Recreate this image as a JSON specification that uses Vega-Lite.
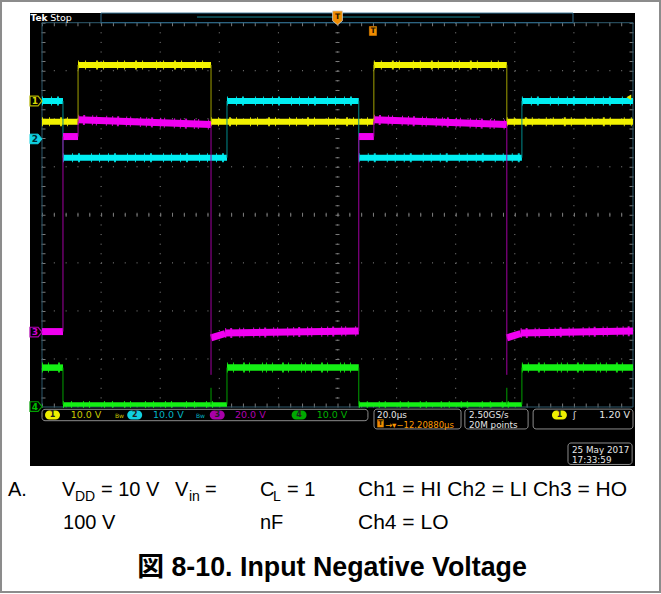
{
  "$schema": "https://vega.github.io/schema/vega-lite/v6.json",
  "width": 605,
  "height": 453,
  "autosize": {"type": "none"},
  "padding": {"left": 30, "top": 13, "right": 26, "bottom": 128},
  "background": "#ffffff",
  "config": {"view": {"fill": "#000000", "stroke": null}},
  "encoding": {
    "x": {"field": "t", "type": "quantitative", "scale": {"domain": [-4.061, 200.677], "nice": false, "zero": false}, "axis": null},
    "y": {"field": "v", "type": "quantitative", "scale": {"domain": [-5.228, 4.2017], "nice": false, "zero": false}, "axis": null}
  },
  "layer": [
    {
      "data": {"values": [
        {"t": 20, "t2": 20, "v": 4, "v2": -4}, {"t": 40, "t2": 40, "v": 4, "v2": -4},
        {"t": 60, "t2": 60, "v": 4, "v2": -4}, {"t": 80, "t2": 80, "v": 4, "v2": -4},
        {"t": 100, "t2": 100, "v": 4, "v2": -4}, {"t": 120, "t2": 120, "v": 4, "v2": -4},
        {"t": 140, "t2": 140, "v": 4, "v2": -4}, {"t": 160, "t2": 160, "v": 4, "v2": -4},
        {"t": 180, "t2": 180, "v": 4, "v2": -4}
      ]},
      "mark": {"type": "rule", "color": "#8a8a8a", "strokeWidth": 1, "strokeDash": [1, 8.608]},
      "encoding": {"x2": {"field": "t2"}, "y2": {"field": "v2"}}
    },
    {
      "data": {"values": [
        {"t": 0, "t2": 200, "v": 3, "v2": 3}, {"t": 0, "t2": 200, "v": 2, "v2": 2},
        {"t": 0, "t2": 200, "v": 1, "v2": 1}, {"t": 0, "t2": 200, "v": 0, "v2": 0},
        {"t": 0, "t2": 200, "v": -1, "v2": -1}, {"t": 0, "t2": 200, "v": -2, "v2": -2},
        {"t": 0, "t2": 200, "v": -3, "v2": -3}
      ]},
      "mark": {"type": "rule", "color": "#8a8a8a", "strokeWidth": 1, "strokeDash": [1, 10.82]},
      "encoding": {"x2": {"field": "t2"}, "y2": {"field": "v2"}}
    },
    {
      "data": {"values": [
        {"t": 100, "t2": 100, "v": 4, "v2": -4},
        {"t": 0.508, "t2": 0.508, "v": 4, "v2": -4},
        {"t": 199.49, "t2": 199.49, "v": 4, "v2": -4}
      ]},
      "mark": {"type": "rule", "color": "#7a7a7a", "strokeWidth": 4, "strokeDash": [1, 8.608]},
      "encoding": {"x2": {"field": "t2"}, "y2": {"field": "v2"}}
    },
    {
      "data": {"values": [
        {"t": 0, "t2": 200, "v": 0, "v2": 0},
        {"t": 0, "t2": 200, "v": 3.969, "v2": 3.969},
        {"t": 0, "t2": 200, "v": -3.969, "v2": -3.969}
      ]},
      "mark": {"type": "rule", "color": "#7a7a7a", "strokeWidth": 4, "strokeDash": [1, 10.82]},
      "encoding": {"x2": {"field": "t2"}, "y2": {"field": "v2"}}
    },
    {
      "data": {"values": [{"t": 0, "t2": 200, "v": 4, "v2": -4}]},
      "mark": {"type": "rect", "filled": false, "color": "#2e5a6e", "strokeWidth": 1},
      "encoding": {"x2": {"field": "t2"}, "y2": {"field": "v2"}}
    },
    {
      "data": {"values": [{"t": 19.97, "t2": 179.7, "v": 4.0, "v2": 4.2}]},
      "mark": {"type": "rect", "filled": false, "color": "#2e6a8a", "strokeWidth": 1},
      "encoding": {"x2": {"field": "t2"}, "y2": {"field": "v2"}}
    },
    {
      "data": {"values": [{"t": 52.45, "t2": 148.2, "v": 4.118, "v2": 4.118}]},
      "mark": {"type": "rule", "color": "#1a8c9c", "strokeWidth": 1},
      "encoding": {"x2": {"field": "t2"}, "y2": {"field": "v2"}}
    },
    {
      "data": {"values": [{"t": -3.9, "v": 4.04, "s": "Tek"}]},
      "mark": {"type": "text", "font": "DejaVu Sans", "fontSize": 9, "fontWeight": "bold", "color": "#ffffff", "align": "left", "baseline": "alphabetic"},
      "encoding": {"text": {"field": "s"}}
    },
    {
      "data": {"values": [{"t": 2.8, "v": 4.04, "s": "Stop"}]},
      "mark": {"type": "text", "font": "DejaVu Sans", "fontSize": 9.5, "color": "#ffffff", "align": "left", "baseline": "alphabetic"},
      "encoding": {"text": {"field": "s"}}
    },
    {
      "data": {"values": [
        {"t": 0, "t2": 7.1, "v": -3.18, "v2": -3.18},
        {"t": 62.6, "t2": 107.2, "v": -3.18, "v2": -3.18},
        {"t": 162.4, "t2": 200, "v": -3.18, "v2": -3.18}
      ]},
      "mark": {"type": "rule", "color": "#14f014", "strokeWidth": 10, "strokeDash": [1, 5, 1, 9, 2, 4, 1, 12, 1, 3], "opacity": 0.85},
      "encoding": {"x2": {"field": "t2"}, "y2": {"field": "v2"}}
    },
    {
      "data": {"values": [
        {"t": 0, "t2": 7.1, "v": -3.18, "v2": -3.18},
        {"t": 62.6, "t2": 107.2, "v": -3.18, "v2": -3.18},
        {"t": 162.4, "t2": 200, "v": -3.18, "v2": -3.18}
      ]},
      "mark": {"type": "rule", "color": "#14f014", "strokeWidth": 6.5},
      "encoding": {"x2": {"field": "t2"}, "y2": {"field": "v2"}}
    },
    {
      "data": {"values": [
        {"t": 7.1, "t2": 62.6, "v": -3.95, "v2": -3.95},
        {"t": 107.2, "t2": 162.4, "v": -3.95, "v2": -3.95}
      ]},
      "mark": {"type": "rule", "color": "#14f014", "strokeWidth": 7, "strokeDash": [1, 7, 1, 11, 1, 5, 1, 14], "opacity": 0.8},
      "encoding": {"x2": {"field": "t2"}, "y2": {"field": "v2"}}
    },
    {
      "data": {"values": [
        {"t": 7.1, "t2": 62.6, "v": -3.95, "v2": -3.95},
        {"t": 107.2, "t2": 162.4, "v": -3.95, "v2": -3.95}
      ]},
      "mark": {"type": "rule", "color": "#14f014", "strokeWidth": 4.5},
      "encoding": {"x2": {"field": "t2"}, "y2": {"field": "v2"}}
    },
    {
      "data": {"values": [
        {"t": 7.1, "t2": 7.1, "v": -3.18, "v2": -3.95},
        {"t": 62.6, "t2": 62.6, "v": -3.95, "v2": -3.18},
        {"t": 107.2, "t2": 107.2, "v": -3.18, "v2": -3.95},
        {"t": 162.4, "t2": 162.4, "v": -3.95, "v2": -3.18},
        {"t": 57.2, "t2": 57.2, "v": -3.95, "v2": -3.6},
        {"t": 157.3, "t2": 157.3, "v": -3.95, "v2": -3.6}
      ]},
      "mark": {"type": "rule", "color": "#00a000", "strokeWidth": 1},
      "encoding": {"x2": {"field": "t2"}, "y2": {"field": "v2"}}
    },
    {
      "data": {"values": [
        {"t": 0, "t2": 12.2, "v": 1.94, "v2": 1.94},
        {"t": 12.2, "t2": 57.2, "v": 3.12, "v2": 3.12},
        {"t": 57.2, "t2": 112.3, "v": 1.94, "v2": 1.94},
        {"t": 112.3, "t2": 157.3, "v": 3.12, "v2": 3.12},
        {"t": 157.3, "t2": 200, "v": 1.94, "v2": 1.94}
      ]},
      "mark": {"type": "rule", "color": "#f2f200", "strokeWidth": 9, "strokeDash": [1, 6, 1, 10, 2, 5, 1, 13], "opacity": 0.85},
      "encoding": {"x2": {"field": "t2"}, "y2": {"field": "v2"}}
    },
    {
      "data": {"values": [
        {"t": 0, "t2": 12.2, "v": 1.94, "v2": 1.94},
        {"t": 12.2, "t2": 57.2, "v": 3.12, "v2": 3.12},
        {"t": 57.2, "t2": 112.3, "v": 1.94, "v2": 1.94},
        {"t": 112.3, "t2": 157.3, "v": 3.12, "v2": 3.12},
        {"t": 157.3, "t2": 200, "v": 1.94, "v2": 1.94}
      ]},
      "mark": {"type": "rule", "color": "#f2f200", "strokeWidth": 6},
      "encoding": {"x2": {"field": "t2"}, "y2": {"field": "v2"}}
    },
    {
      "data": {"values": [
        {"t": 0, "t2": 7.1, "v": 2.37, "v2": 2.37},
        {"t": 7.1, "t2": 62.6, "v": 1.19, "v2": 1.19},
        {"t": 62.6, "t2": 107.2, "v": 2.37, "v2": 2.37},
        {"t": 107.2, "t2": 162.4, "v": 1.19, "v2": 1.19},
        {"t": 162.4, "t2": 200, "v": 2.37, "v2": 2.37}
      ]},
      "mark": {"type": "rule", "color": "#00eef2", "strokeWidth": 9, "strokeDash": [1, 8, 1, 5, 2, 11, 1, 7], "opacity": 0.85},
      "encoding": {"x2": {"field": "t2"}, "y2": {"field": "v2"}}
    },
    {
      "data": {"values": [
        {"t": 0, "t2": 7.1, "v": 2.37, "v2": 2.37},
        {"t": 7.1, "t2": 62.6, "v": 1.19, "v2": 1.19},
        {"t": 62.6, "t2": 107.2, "v": 2.37, "v2": 2.37},
        {"t": 107.2, "t2": 162.4, "v": 1.19, "v2": 1.19},
        {"t": 162.4, "t2": 200, "v": 2.37, "v2": 2.37}
      ]},
      "mark": {"type": "rule", "color": "#00eef2", "strokeWidth": 6},
      "encoding": {"x2": {"field": "t2"}, "y2": {"field": "v2"}}
    },
    {
      "data": {"values": [
        {"t": 7.1, "t2": 7.1, "v": 2.37, "v2": 1.19},
        {"t": 62.6, "t2": 62.6, "v": 1.19, "v2": 2.37},
        {"t": 107.2, "t2": 107.2, "v": 2.37, "v2": 1.19},
        {"t": 162.4, "t2": 162.4, "v": 1.19, "v2": 2.37}
      ]},
      "mark": {"type": "rule", "color": "#008a8c", "strokeWidth": 1},
      "encoding": {"x2": {"field": "t2"}, "y2": {"field": "v2"}}
    },
    {
      "data": {"values": [
        {"t": 12.2, "t2": 57.2, "v": 1.98, "v2": 1.88},
        {"t": 62, "t2": 107.2, "v": -2.46, "v2": -2.42},
        {"t": 112.3, "t2": 157.3, "v": 1.98, "v2": 1.88},
        {"t": 162, "t2": 200, "v": -2.46, "v2": -2.42}
      ]},
      "mark": {"type": "rule", "color": "#f000f0", "strokeWidth": 10, "strokeDash": [1, 4, 2, 7, 1, 3, 1, 9, 1, 5], "opacity": 0.85},
      "encoding": {"x2": {"field": "t2"}, "y2": {"field": "v2"}}
    },
    {
      "data": {"values": [
        {"t": 0, "t2": 7.1, "v": -2.43, "v2": -2.43},
        {"t": 7.1, "t2": 12.2, "v": 1.63, "v2": 1.63},
        {"t": 12.2, "t2": 57.2, "v": 1.98, "v2": 1.88},
        {"t": 57.2, "t2": 62, "v": -2.56, "v2": -2.47},
        {"t": 62, "t2": 107.2, "v": -2.46, "v2": -2.42},
        {"t": 107.2, "t2": 112.3, "v": 1.63, "v2": 1.63},
        {"t": 112.3, "t2": 157.3, "v": 1.98, "v2": 1.88},
        {"t": 157.3, "t2": 162, "v": -2.56, "v2": -2.47},
        {"t": 162, "t2": 200, "v": -2.46, "v2": -2.42}
      ]},
      "mark": {"type": "rule", "color": "#f000f0", "strokeWidth": 7},
      "encoding": {"x2": {"field": "t2"}, "y2": {"field": "v2"}}
    },
    {
      "data": {"values": [
        {"t": 7.1, "t2": 7.1, "v": -2.43, "v2": 1.63},
        {"t": 12.2, "t2": 12.2, "v": 1.63, "v2": 1.98},
        {"t": 57.2, "t2": 57.2, "v": 1.88, "v2": -3.33},
        {"t": 107.2, "t2": 107.2, "v": -2.42, "v2": 1.63},
        {"t": 112.3, "t2": 112.3, "v": 1.63, "v2": 1.98},
        {"t": 157.3, "t2": 157.3, "v": 1.88, "v2": -3.33}
      ]},
      "mark": {"type": "rule", "color": "#a000a0", "strokeWidth": 1},
      "encoding": {"x2": {"field": "t2"}, "y2": {"field": "v2"}}
    },
    {
      "data": {"values": [
        {"t": 12.2, "t2": 12.2, "v": 1.94, "v2": 3.12},
        {"t": 57.2, "t2": 57.2, "v": 3.12, "v2": 1.94},
        {"t": 112.3, "t2": 112.3, "v": 1.94, "v2": 3.12},
        {"t": 157.3, "t2": 157.3, "v": 3.12, "v2": 1.94}
      ]},
      "mark": {"type": "rule", "color": "#a0a000", "strokeWidth": 1},
      "encoding": {"x2": {"field": "t2"}, "y2": {"field": "v2"}}
    },
    {
      "data": {"values": [{"t": -2.03, "v": 2.37}]},
      "mark": {"type": "point", "shape": "M-1,-0.8L0.35,-0.8L1,0L0.35,0.8L-1,0.8Z", "size": 144, "filled": true, "fill": "#000000", "stroke": "#b4b400", "strokeWidth": 1.2, "opacity": 1}
    },
    {
      "data": {"values": [{"t": -2.03, "v": 1.58}]},
      "mark": {"type": "point", "shape": "M-1,-0.8L0.35,-0.8L1,0L0.35,0.8L-1,0.8Z", "size": 144, "filled": true, "fill": "#10d0e0", "stroke": "#10d0e0", "strokeWidth": 1, "opacity": 1}
    },
    {
      "data": {"values": [{"t": -2.03, "v": -2.44}]},
      "mark": {"type": "point", "shape": "M-1,-0.8L0.35,-0.8L1,0L0.35,0.8L-1,0.8Z", "size": 144, "filled": true, "fill": "#000000", "stroke": "#b000b0", "strokeWidth": 1.2, "opacity": 1}
    },
    {
      "data": {"values": [{"t": -2.03, "v": -3.99}]},
      "mark": {"type": "point", "shape": "M-1,-0.8L0.35,-0.8L1,0L0.35,0.8L-1,0.8Z", "size": 144, "filled": true, "fill": "#000000", "stroke": "#00a000", "strokeWidth": 1.2, "opacity": 1}
    },
    {
      "data": {"values": [{"t": -2.4, "v": 2.37, "s": "1"}]},
      "mark": {"type": "text", "font": "DejaVu Sans", "fontSize": 9, "fontWeight": "bold", "color": "#d8d800", "align": "center", "baseline": "middle"},
      "encoding": {"text": {"field": "s"}}
    },
    {
      "data": {"values": [{"t": -2.4, "v": 1.58, "s": "2"}]},
      "mark": {"type": "text", "font": "DejaVu Sans", "fontSize": 9, "fontWeight": "bold", "color": "#002830", "align": "center", "baseline": "middle"},
      "encoding": {"text": {"field": "s"}}
    },
    {
      "data": {"values": [{"t": -2.4, "v": -2.44, "s": "3"}]},
      "mark": {"type": "text", "font": "DejaVu Sans", "fontSize": 9, "fontWeight": "bold", "color": "#d000d0", "align": "center", "baseline": "middle"},
      "encoding": {"text": {"field": "s"}}
    },
    {
      "data": {"values": [{"t": -2.4, "v": -3.99, "s": "4"}]},
      "mark": {"type": "text", "font": "DejaVu Sans", "fontSize": 9, "fontWeight": "bold", "color": "#00c000", "align": "center", "baseline": "middle"},
      "encoding": {"text": {"field": "s"}}
    },
    {
      "data": {"values": [{"t": 100, "v": 4.1}]},
      "mark": {"type": "point", "shape": "M-0.7,-1L0.7,-1L0.7,0.4L0,1L-0.7,0.4Z", "size": 196, "filled": true, "fill": "#f08c00", "stroke": "#d0d0d0", "strokeWidth": 0.8, "opacity": 1}
    },
    {
      "data": {"values": [{"t": 112.0, "v": 3.827}]},
      "mark": {"type": "point", "shape": "M-0.8,-1L0.8,-1L0.8,1L-0.8,1Z", "size": 81, "filled": true, "fill": "#f08c00", "stroke": "#f08c00", "strokeWidth": 0.5, "opacity": 1}
    },
    {
      "data": {"values": [{"t": 100, "v": 4.12, "s": "T"}, {"t": 112.0, "v": 3.827, "s": "T"}]},
      "mark": {"type": "text", "font": "DejaVu Sans", "fontSize": 7.5, "fontWeight": "bold", "color": "#201000", "align": "center", "baseline": "middle"},
      "encoding": {"text": {"field": "s"}}
    },
    {
      "data": {"values": [{"t": 198.6, "v": 2.45}]},
      "mark": {"type": "point", "shape": "triangle-left", "size": 30, "filled": true, "color": "#e8e800", "opacity": 1}
    },
    {
      "data": {"values": [
        {"t": 0, "t2": 110.3, "v": -4.048, "v2": -4.285},
        {"t": 112.35, "t2": 141.8, "v": -4.044, "v2": -4.457},
        {"t": 143.1, "t2": 164.5, "v": -4.044, "v2": -4.457},
        {"t": 166.2, "t2": 200, "v": -4.044, "v2": -4.457},
        {"t": 178, "t2": 199.7, "v": -4.749, "v2": -5.196}
      ]},
      "mark": {"type": "rect", "filled": false, "color": "#8c8c8c", "strokeWidth": 1, "cornerRadius": 3},
      "encoding": {"x2": {"field": "t2"}, "y2": {"field": "v2"}}
    },
    {
      "data": {"values": [{"t": 3.55, "v": -4.166}, {"t": 175.1, "v": -4.166}]},
      "mark": {"type": "point", "shape": "M-0.4,-0.6L0.4,-0.6A0.6,0.6,0,0,1,0.4,0.6L-0.4,0.6A0.6,0.6,0,0,1,-0.4,-0.6Z", "size": 225, "filled": true, "color": "#eeee00", "opacity": 1}
    },
    {
      "data": {"values": [{"t": 31.37, "v": -4.166}]},
      "mark": {"type": "point", "shape": "M-0.4,-0.6L0.4,-0.6A0.6,0.6,0,0,1,0.4,0.6L-0.4,0.6A0.6,0.6,0,0,1,-0.4,-0.6Z", "size": 225, "filled": true, "color": "#10d0e0", "opacity": 1}
    },
    {
      "data": {"values": [{"t": 59.3, "v": -4.166}]},
      "mark": {"type": "point", "shape": "M-0.4,-0.6L0.4,-0.6A0.6,0.6,0,0,1,0.4,0.6L-0.4,0.6A0.6,0.6,0,0,1,-0.4,-0.6Z", "size": 225, "filled": true, "color": "#a800a8", "opacity": 1}
    },
    {
      "data": {"values": [{"t": 87.0, "v": -4.166}]},
      "mark": {"type": "point", "shape": "M-0.4,-0.6L0.4,-0.6A0.6,0.6,0,0,1,0.4,0.6L-0.4,0.6A0.6,0.6,0,0,1,-0.4,-0.6Z", "size": 225, "filled": true, "color": "#00a800", "opacity": 1}
    },
    {
      "data": {"values": [{"t": 3.55, "v": -4.166, "s": "1"}, {"t": 31.37, "v": -4.166, "s": "2"}, {"t": 59.3, "v": -4.166, "s": "3"}, {"t": 87.0, "v": -4.166, "s": "4"}, {"t": 175.1, "v": -4.166, "s": "1"}]},
      "mark": {"type": "text", "font": "DejaVu Sans", "fontSize": 8, "fontWeight": "bold", "color": "#202020", "align": "center", "baseline": "middle"},
      "encoding": {"text": {"field": "s"}}
    },
    {
      "data": {"values": [{"t": 9.71, "v": -4.236, "s": "10.0 V"}]},
      "mark": {"type": "text", "font": "DejaVu Sans", "fontSize": 9.5, "color": "#c8c800", "align": "left", "baseline": "alphabetic"},
      "encoding": {"text": {"field": "s"}}
    },
    {
      "data": {"values": [{"t": 24.7, "v": -4.236, "s": "Bw"}]},
      "mark": {"type": "text", "font": "DejaVu Sans", "fontSize": 6, "color": "#c8c800", "align": "left", "baseline": "alphabetic"},
      "encoding": {"text": {"field": "s"}}
    },
    {
      "data": {"values": [{"t": 37.56, "v": -4.236, "s": "10.0 V"}]},
      "mark": {"type": "text", "font": "DejaVu Sans", "fontSize": 9.5, "color": "#00b4c4", "align": "left", "baseline": "alphabetic"},
      "encoding": {"text": {"field": "s"}}
    },
    {
      "data": {"values": [{"t": 52.1, "v": -4.236, "s": "Bw"}]},
      "mark": {"type": "text", "font": "DejaVu Sans", "fontSize": 6, "color": "#00b4c4", "align": "left", "baseline": "alphabetic"},
      "encoding": {"text": {"field": "s"}}
    },
    {
      "data": {"values": [{"t": 65.3, "v": -4.236, "s": "20.0 V"}]},
      "mark": {"type": "text", "font": "DejaVu Sans", "fontSize": 9.5, "color": "#b000b0", "align": "left", "baseline": "alphabetic"},
      "encoding": {"text": {"field": "s"}}
    },
    {
      "data": {"values": [{"t": 92.96, "v": -4.236, "s": "10.0 V"}]},
      "mark": {"type": "text", "font": "DejaVu Sans", "fontSize": 9.5, "color": "#00b000", "align": "left", "baseline": "alphabetic"},
      "encoding": {"text": {"field": "s"}}
    },
    {
      "data": {"values": [
        {"t": 113.4, "v": -4.236, "s": "20.0µs"},
        {"t": 144.5, "v": -4.236, "s": "2.50GS/s"},
        {"t": 144.5, "v": -4.43, "s": "20M points"},
        {"t": 179.7, "v": -4.236, "s": "ʃ"},
        {"t": 179.36, "v": -4.964, "s": "25 May 2017"},
        {"t": 179.36, "v": -5.16, "s": "17:33:59"}
      ]},
      "mark": {"type": "text", "font": "DejaVu Sans", "fontSize": 8.8, "color": "#e6e6e6", "align": "left", "baseline": "alphabetic"},
      "encoding": {"text": {"field": "s"}}
    },
    {
      "data": {"values": [{"t": 198.98, "v": -4.236, "s": "1.20 V"}]},
      "mark": {"type": "text", "font": "DejaVu Sans", "fontSize": 9.5, "color": "#e6e6e6", "align": "right", "baseline": "alphabetic"},
      "encoding": {"text": {"field": "s"}}
    },
    {
      "data": {"values": [{"t": 114.55, "v": -4.34}]},
      "mark": {"type": "point", "shape": "M-0.8,-1L0.8,-1L0.8,1L-0.8,1Z", "size": 64, "filled": true, "color": "#f08c00", "opacity": 1}
    },
    {
      "data": {"values": [{"t": 114.55, "v": -4.34, "s": "T"}]},
      "mark": {"type": "text", "font": "DejaVu Sans", "fontSize": 6.5, "fontWeight": "bold", "color": "#201000", "align": "center", "baseline": "middle"},
      "encoding": {"text": {"field": "s"}}
    },
    {
      "data": {"values": [{"t": 116.07, "v": -4.43, "s": "→▾−12.20880µs"}]},
      "mark": {"type": "text", "font": "DejaVu Sans", "fontSize": 8.5, "color": "#ff9a00", "align": "left", "baseline": "alphabetic"},
      "encoding": {"text": {"field": "s"}}
    },
    {
      "data": {"values": [{"t": -13.87, "t2": 209.14, "v": 4.452, "v2": -7.851}]},
      "mark": {"type": "rect", "filled": false, "color": "#8c8c8c", "strokeWidth": 2, "clip": false},
      "encoding": {"x2": {"field": "t2"}, "y2": {"field": "v2"}}
    },
    {
      "data": {"values": [
        {"t": -11.51, "v": -5.852, "s": "A."},
        {"t": 6.77, "v": -5.852, "s": "V"},
        {"t": 19.97, "v": -5.852, "s": "= 10 V"},
        {"t": 45.0, "v": -5.852, "s": "V"},
        {"t": 55.16, "v": -5.852, "s": "="},
        {"t": 73.77, "v": -5.852, "s": "C"},
        {"t": 82.91, "v": -5.852, "s": "= 1"},
        {"t": 7.11, "v": -6.539, "s": "100 V"},
        {"t": 73.77, "v": -6.539, "s": "nF"}
      ]},
      "mark": {"type": "text", "font": "Liberation Sans", "fontSize": 20, "color": "#000000", "align": "left", "baseline": "alphabetic"},
      "encoding": {"text": {"field": "s"}}
    },
    {
      "data": {"values": [
        {"t": 106.94, "v": -5.852, "s": "Ch1 = HI Ch2 = LI Ch3 = HO"},
        {"t": 106.94, "v": -6.539, "s": "Ch4 = LO"}
      ]},
      "mark": {"type": "text", "font": "Liberation Sans", "fontSize": 21, "color": "#000000", "align": "left", "baseline": "alphabetic"},
      "encoding": {"text": {"field": "s"}}
    },
    {
      "data": {"values": [
        {"t": 11.17, "v": -5.956, "s": "DD"},
        {"t": 49.75, "v": -5.956, "s": "in"},
        {"t": 78.17, "v": -5.956, "s": "L"}
      ]},
      "mark": {"type": "text", "font": "Liberation Sans", "fontSize": 14, "color": "#000000", "align": "left", "baseline": "alphabetic"},
      "encoding": {"text": {"field": "s"}}
    },
    {
      "data": {"values": [{"t": 98.14, "v": -7.517, "s": "図 8-10. Input Negative Voltage"}]},
      "mark": {"type": "text", "font": "Liberation Sans, Noto Sans CJK JP", "fontSize": 26.8, "fontWeight": "bold", "color": "#000000", "align": "center", "baseline": "alphabetic"},
      "encoding": {"text": {"field": "s"}}
    }
  ]
}
